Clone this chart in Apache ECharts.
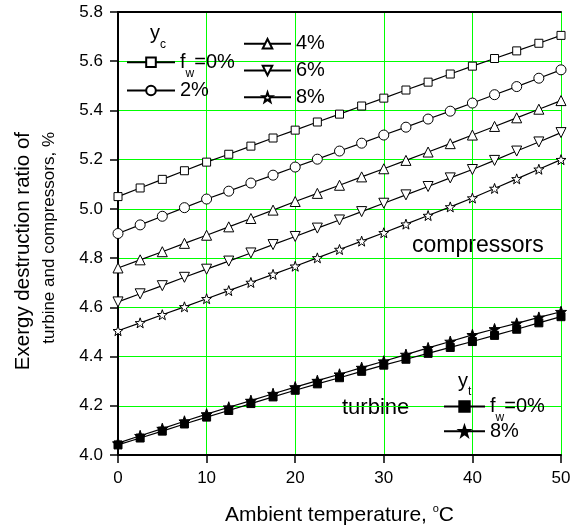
<!DOCTYPE html>
<html>
<head>
<meta charset="utf-8">
<script src="https://cdn.jsdelivr.net/npm/echarts@6/dist/echarts.min.js"></script>
<style>html,body{margin:0;padding:0;background:#fff}#c{width:579px;height:531px}</style>
</head>
<body>
<div id="c"></div>
<script>
// ---------------- data ----------------
const temperature = [0, 2.5, 5, 7.5, 10, 12.5, 15, 17.5, 20, 22.5, 25, 27.5, 30, 32.5, 35, 37.5, 40, 42.5, 45, 47.5, 50];

// compressors, y_c
const compFw0 = [5.050, 5.085, 5.120, 5.155, 5.190, 5.222, 5.255, 5.288, 5.320, 5.353, 5.385, 5.418, 5.450, 5.483, 5.515, 5.548, 5.580, 5.611, 5.642, 5.673, 5.705];
const compFw2 = [4.900, 4.935, 4.970, 5.005, 5.040, 5.072, 5.105, 5.137, 5.170, 5.202, 5.235, 5.267, 5.300, 5.332, 5.365, 5.397, 5.430, 5.464, 5.497, 5.531, 5.565];
const compFw4 = [4.760, 4.793, 4.826, 4.860, 4.893, 4.927, 4.961, 4.995, 5.030, 5.063, 5.096, 5.130, 5.163, 5.197, 5.231, 5.265, 5.300, 5.335, 5.370, 5.405, 5.440];
const compFw6 = [4.622, 4.655, 4.688, 4.722, 4.755, 4.788, 4.821, 4.855, 4.888, 4.922, 4.955, 4.989, 5.023, 5.057, 5.091, 5.126, 5.160, 5.197, 5.235, 5.272, 5.310];
const compFw8 = [4.505, 4.537, 4.570, 4.602, 4.635, 4.668, 4.701, 4.734, 4.767, 4.801, 4.835, 4.869, 4.903, 4.938, 4.973, 5.008, 5.044, 5.083, 5.122, 5.161, 5.200];

// turbine, y_t
const turbFw0 = [4.041, 4.069, 4.097, 4.126, 4.154, 4.181, 4.209, 4.236, 4.263, 4.289, 4.314, 4.340, 4.365, 4.389, 4.413, 4.437, 4.461, 4.486, 4.511, 4.537, 4.562];
const turbFw8 = [4.048, 4.078, 4.107, 4.137, 4.166, 4.194, 4.221, 4.249, 4.276, 4.302, 4.328, 4.355, 4.381, 4.408, 4.435, 4.461, 4.488, 4.512, 4.535, 4.559, 4.582];

// tick labels
const xTickLabels = ['0', '10', '20', '30', '40', '50'];
const yTickLabels = ['4.0', '4.2', '4.4', '4.6', '4.8', '5.0', '5.2', '5.4', '5.6', '5.8'];

// ---------------- chart ----------------
const FONT = '"Liberation Sans", Arial, Helvetica, sans-serif';
const xMin = +xTickLabels[0], xMax = +xTickLabels[xTickLabels.length - 1];
const xInt = +xTickLabels[1] - +xTickLabels[0];
const yMin = +yTickLabels[0], yMax = +yTickLabels[yTickLabels.length - 1];
const yInt = +(+yTickLabels[1] - +yTickLabels[0]).toFixed(3);

const STAR = 'path://M0,-10 L2.35,-3.24 L9.51,-3.09 L3.8,1.24 L5.88,8.09 L0,4 L-5.88,8.09 L-3.8,1.24 L-9.51,-3.09 L-2.35,-3.24 Z';

function mk(name, values, symbol, size, fill, rotate) {
  return {
    name: name,
    type: 'line',
    data: temperature.map((t, i) => [t, values[i]]),
    symbol: symbol,
    symbolSize: size,
    symbolRotate: rotate || 0,
    showSymbol: true,
    showAllSymbol: true,
    lineStyle: { color: '#000', width: 1.2 },
    itemStyle: { color: fill, borderColor: '#000', borderWidth: 1 },
    emphasis: { disabled: true },
    silent: true,
    animation: false
  };
}

const legendLabels = {
  c0: '{a|f}{s|w}{a|=0%}', c2: '{a|2%}', c4: '{a|4%}', c6: '{a|6%}', c8: '{a|8%}',
  t0: '{a|f}{s|w}{a|=0%}', t8: '{a|8%}'
};
function lg(name, left, rowY, width, ih) {
  const hasSub = legendLabels[name].indexOf('{s|') >= 0;
  return {
    data: [name], left: left, top: rowY - (hasSub ? 17 : 9.5), orient: 'horizontal',
    padding: 0, itemWidth: width, itemHeight: ih || 12, selectedMode: false,
    formatter: n => legendLabels[n],
    textStyle: {
      color: '#000', fontFamily: FONT, fontSize: 20,
      rich: {
        a: { fontSize: 20, fontFamily: FONT, color: '#000' },
        s: { fontSize: 12, lineHeight: 12, padding: [23, 0, 0, 0], fontFamily: FONT, color: '#000' }
      }
    }
  };
}

const chart = echarts.init(document.getElementById('c'), null, { renderer: 'canvas' });
chart.setOption({
  backgroundColor: '#fff',
  animation: false,
  grid: { left: 118, right: 18, top: 12, bottom: 76, outerBoundsMode: 'none', containLabel: false },
  xAxis: [{
    type: 'value', min: xMin, max: xMax, interval: xInt,
    name: '{n|Ambient temperature, }{sup|o}{n|C}',
    nameLocation: 'middle', nameGap: 48,
    nameTextStyle: {
      fontFamily: FONT, fontSize: 21, color: '#000',
      rich: {
        n: { fontFamily: FONT, fontSize: 21, lineHeight: 24, color: '#000' },
        sup: { fontFamily: FONT, fontSize: 11, lineHeight: 11, verticalAlign: 'top', color: '#000' }
      }
    },
    axisLine: { show: true, lineStyle: { color: '#000', width: 2 } },
    axisTick: { show: true, inside: false, length: 8, lineStyle: { color: '#000', width: 1.5 } },
    axisLabel: { margin: 15, fontFamily: FONT, fontSize: 17, color: '#000', formatter: v => String(v) },
    splitLine: { show: true, lineStyle: { color: '#00ff00', width: 1 } }
  }, {
    type: 'value', position: 'top', min: xMin, max: xMax, interval: xInt,
    axisLine: { show: true, lineStyle: { color: '#000', width: 2 } },
    axisTick: { show: false }, axisLabel: { show: false }, splitLine: { show: false }
  }],
  yAxis: [{
    type: 'value', min: yMin, max: yMax, interval: yInt,
    axisLine: { show: true, lineStyle: { color: '#000', width: 2 } },
    axisTick: { show: true, inside: false, length: 8, lineStyle: { color: '#000', width: 1.5 } },
    axisLabel: { margin: 15, fontFamily: FONT, fontSize: 17, color: '#000', formatter: v => v.toFixed(1) },
    splitLine: { show: true, lineStyle: { color: '#00ff00', width: 1 } }
  }, {
    type: 'value', position: 'right', min: yMin, max: yMax, interval: yInt,
    axisLine: { show: true, lineStyle: { color: '#000', width: 2 } },
    axisTick: { show: false }, axisLabel: { show: false }, splitLine: { show: false }
  }],
  legend: [
    lg('c0', 126, 61.7, 48),
    lg('c2', 126, 90, 48),
    lg('c4', 243, 43.3, 47),
    lg('c6', 243, 70, 47),
    lg('c8', 243, 96.7, 47),
    lg('t0', 443, 406, 41, 13),
    lg('t8', 443, 430.7, 41, 13)
  ],
  series: [
    mk('c0', compFw0, 'rect', 8, '#fff'),
    mk('c2', compFw2, 'circle', 10, '#fff'),
    mk('c4', compFw4, 'triangle', 10, '#fff'),
    mk('c6', compFw6, 'triangle', 10, '#fff', 180),
    mk('c8', compFw8, STAR, 10, '#fff'),
    mk('t0', turbFw0, 'rect', 8, '#000'),
    mk('t8', turbFw8, STAR, 11, '#000')
  ],
  graphic: [
    { type: 'text', x: 23.5, y: 132, rotation: Math.PI / 2,
      style: { text: 'Exergy destruction ratio of', fontFamily: FONT, fontSize: 20.5, fill: '#000', align: 'right', verticalAlign: 'middle' } },
    { type: 'text', x: 49, y: 132, rotation: Math.PI / 2,
      style: { text: 'turbine and compressors, %', fontFamily: FONT, fontSize: 17, fill: '#000', align: 'right', verticalAlign: 'middle' } },
    { type: 'text', x: 150, y: 33,
      style: { text: '{m|y}{s|c}', fontFamily: FONT, fill: '#000', align: 'left', verticalAlign: 'middle',
        rich: { m: { fontSize: 20, lineHeight: 24, fontFamily: FONT, fill: '#000' },
                s: { fontSize: 12, lineHeight: 12, padding: [24, 0, 0, 0], fontFamily: FONT, fill: '#000' } } } },
    { type: 'text', x: 458, y: 381,
      style: { text: '{m|y}{s|t}', fontFamily: FONT, fill: '#000', align: 'left', verticalAlign: 'middle',
        rich: { m: { fontSize: 20, lineHeight: 24, fontFamily: FONT, fill: '#000' },
                s: { fontSize: 12, lineHeight: 12, padding: [22, 0, 0, 0], fontFamily: FONT, fill: '#000' } } } },
    { type: 'text', x: 412, y: 245.5,
      style: { text: 'compressors', fontFamily: FONT, fontSize: 23, fill: '#000', align: 'left', verticalAlign: 'middle' } },
    { type: 'text', x: 342, y: 408,
      style: { text: 'turbine', fontFamily: FONT, fontSize: 22, fill: '#000', align: 'left', verticalAlign: 'middle' } }
  ]
});
</script>
</body>
</html>
